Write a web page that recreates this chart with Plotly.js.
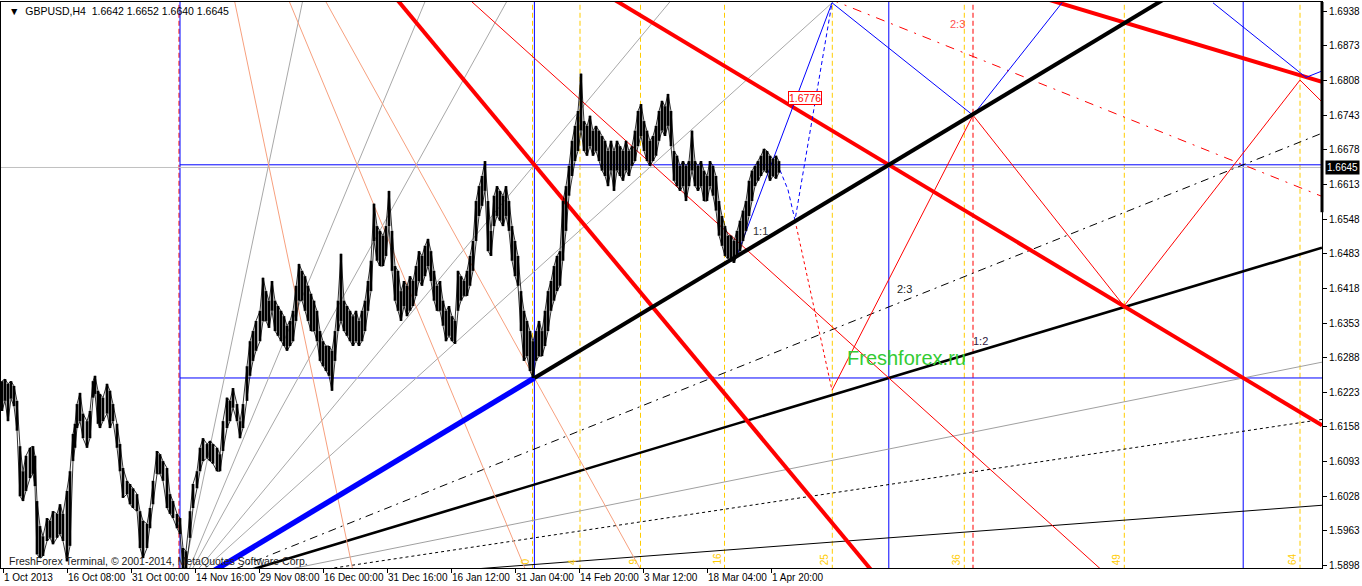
<!DOCTYPE html>
<html><head><meta charset="utf-8">
<script src="https://cdn.plot.ly/plotly-3.0.1.min.js"></script>
<style>html,body{margin:0;padding:0;background:#fff;}#chart{width:1362px;height:586px;}</style>
</head><body><div id="chart"></div>
<script>
// ---------- axis labels ----------
const dateTickBars = [3,67,131,195,259,323,387,451,515,579,643,707,771];
const dateTickLabels = ['1 Oct 2013','16 Oct 08:00','31 Oct 00:00','14 Nov 16:00','29 Nov 08:00','16 Dec 00:00','31 Dec 16:00','16 Jan 12:00','31 Jan 04:00','14 Feb 20:00','3 Mar 12:00','18 Mar 04:00','1 Apr 20:00'];
const priceTicks = [1.5898,1.5963,1.6028,1.6093,1.6158,1.6223,1.6288,1.6353,1.6418,1.6483,1.6548,1.6613,1.6678,1.6743,1.6808,1.6873,1.6938];
const symbolName = 'GBPUSD,H4';
const lastOHLC = [1.6642, 1.6652, 1.6640, 1.6645];
const bidPrice = 1.6645;
const firstBar = 1, lastBar = 1322;
const priceMin = 1.58934, priceMax = 1.69555;

// ---------- price bars (H4, sampled high / low) ----------
const barX = [
 2,5,8,11,14,17,20,23,26,30, 33,35,37,40,43,47,50,53,57,60, 63,67,70,73,75,77,80,83,87,90,
 93,95,98,100,103,107,110,113,117,120, 123,127,130,133,137,140,143,147,150,153, 157,160,163,167,170,173,177,180,183,186,
 190,193,197,200,203,207,210,213,217,220, 223,227,230,233,237,240,243,247,250,253, 256,260,263,266,269,272,275,278,281,284,
 287,290,293,296,299,302,305,308,311,314, 317,320,323,326,329,332,335,338,341,344, 347,350,353,356,359,362,365,368,371,374,
 377,380,383,386,389,392,395,398,401,404, 407,410,413,416,419,422,425,428,431,434, 437,440,443,446,449,452,455,458,461,464,
 467,470,473,476,479,482,485,488,491,494, 497,500,503,506,509,512,515,518,521,524, 527,530,533,536,539,542,545,548,551,554,
 557,560,563,566,569,572,575,578,581,584, 587,590,593,596,599,602,605,608,611,614, 617,620,623,626,629,632,635,638,641,644,
 647,650,653,656,659,662,665,668,671,674, 677,680,683,686,689,692,695,698,701,704, 707,710,713,716,719,722,725,728,731,734,
 737,740,743,746,749,752,755,758,761,764, 767,770,773,776,779];
const barHigh = [
 1.6244,1.6248,1.6239,1.6244,1.6235,1.6207,1.6122,1.6075,1.6104,1.6119,
 1.6122,1.6104,1.6019,1.5972,1.5953,1.5987,1.5982,1.6000,1.5995,1.6013,
 1.5995,1.6038,1.6075,1.6145,1.6164,1.6201,1.6222,1.6183,1.6169,1.6188,
 1.6244,1.6254,1.6226,1.6220,1.6213,1.6239,1.6226,1.6201,1.6164,1.6126,
 1.6081,1.6057,1.6051,1.6043,1.6032,1.6000,1.5982,1.5976,1.6006,1.6057,
 1.6113,1.6107,1.6094,1.6081,1.6032,1.6019,1.5995,1.5987,1.5931,1.5925,
 1.6000,1.6051,1.6075,1.6119,1.6137,1.6126,1.6132,1.6126,1.6119,1.6107,
 1.6169,1.6213,1.6207,1.6231,1.6201,1.6169,1.6201,1.6272,1.6319,1.6338,
 1.6357,1.6376,1.6438,1.6413,1.6395,1.6432,1.6395,1.6385,1.6376,1.6366,
 1.6348,1.6357,1.6376,1.6423,1.6464,1.6451,1.6441,1.6423,1.6408,1.6395,
 1.6376,1.6338,1.6319,1.6310,1.6310,1.6301,1.6338,1.6395,1.6483,1.6395,
 1.6385,1.6376,1.6366,1.6376,1.6357,1.6376,1.6395,1.6432,1.6470,1.6577,
 1.6535,1.6526,1.6517,1.6535,1.6601,1.6526,1.6460,1.6451,1.6413,1.6432,
 1.6423,1.6441,1.6432,1.6460,1.6488,1.6479,1.6498,1.6511,1.6488,1.6451,
 1.6423,1.6432,1.6395,1.6376,1.6385,1.6366,1.6357,1.6451,1.6441,1.6432,
 1.6451,1.6479,1.6507,1.6582,1.6610,1.6629,1.6657,1.6582,1.6526,1.6592,
 1.6610,1.6601,1.6592,1.6610,1.6582,1.6535,1.6507,1.6479,1.6413,1.6376,
 1.6357,1.6338,1.6319,1.6338,1.6357,1.6338,1.6376,1.6413,1.6432,1.6460,
 1.6479,1.6488,1.6582,1.6610,1.6648,1.6695,1.6723,1.6751,1.6821,1.6732,
 1.6723,1.6742,1.6714,1.6723,1.6714,1.6704,1.6695,1.6676,1.6695,1.6676,
 1.6695,1.6685,1.6676,1.6695,1.6676,1.6685,1.6714,1.6751,1.6764,1.6732,
 1.6714,1.6695,1.6704,1.6723,1.6751,1.6770,1.6760,1.6783,1.6751,1.6676,
 1.6667,1.6648,1.6657,1.6648,1.6657,1.6714,1.6657,1.6648,1.6657,1.6639,
 1.6629,1.6657,1.6648,1.6629,1.6582,1.6554,1.6535,1.6517,1.6517,1.6507,
 1.6526,1.6545,1.6564,1.6582,1.6620,1.6639,1.6648,1.6657,1.6667,1.6680,
 1.6676,1.6667,1.6661,1.6667,1.6657];
const barLow = [
 1.6188,1.6207,1.6169,1.6211,1.6197,1.6151,1.6028,1.6019,1.6038,1.6062,
 1.6070,1.6047,1.5919,1.5912,1.5916,1.5944,1.5950,1.5938,1.5950,1.5957,
 1.5944,1.5906,1.5935,1.6094,1.6119,1.6156,1.6169,1.6137,1.6119,1.6137,
 1.6213,1.6220,1.6164,1.6156,1.6169,1.6183,1.6156,1.6169,1.6119,1.6075,
 1.6025,1.6032,1.6013,1.6006,1.6000,1.5931,1.5912,1.5931,1.5968,1.6013,
 1.6070,1.6070,1.6057,1.6006,1.5995,1.5987,1.5968,1.5957,1.5893,1.5893,
 1.5950,1.6006,1.6043,1.6075,1.6094,1.6100,1.6094,1.6089,1.6075,1.6075,
 1.6113,1.6156,1.6169,1.6194,1.6169,1.6137,1.6156,1.6207,1.6254,1.6282,
 1.6301,1.6319,1.6357,1.6357,1.6344,1.6376,1.6338,1.6329,1.6319,1.6310,
 1.6301,1.6310,1.6319,1.6357,1.6395,1.6395,1.6376,1.6357,1.6338,1.6338,
 1.6319,1.6282,1.6272,1.6263,1.6254,1.6226,1.6282,1.6338,1.6357,1.6338,
 1.6329,1.6319,1.6310,1.6319,1.6310,1.6319,1.6338,1.6376,1.6413,1.6507,
 1.6470,1.6460,1.6460,1.6479,1.6535,1.6451,1.6395,1.6376,1.6357,1.6385,
 1.6366,1.6376,1.6385,1.6404,1.6432,1.6423,1.6441,1.6460,1.6432,1.6395,
 1.6376,1.6376,1.6348,1.6319,1.6329,1.6319,1.6314,1.6376,1.6395,1.6404,
 1.6404,1.6423,1.6451,1.6507,1.6554,1.6573,1.6601,1.6488,1.6479,1.6535,
 1.6554,1.6545,1.6535,1.6554,1.6526,1.6470,1.6441,1.6423,1.6338,1.6282,
 1.6291,1.6263,1.6250,1.6282,1.6291,1.6291,1.6310,1.6338,1.6376,1.6395,
 1.6413,1.6423,1.6470,1.6526,1.6592,1.6629,1.6657,1.6676,1.6714,1.6676,
 1.6667,1.6685,1.6667,1.6676,1.6657,1.6639,1.6629,1.6610,1.6639,1.6601,
 1.6639,1.6629,1.6620,1.6639,1.6629,1.6648,1.6657,1.6685,1.6704,1.6676,
 1.6657,1.6648,1.6657,1.6667,1.6695,1.6714,1.6704,1.6723,1.6685,1.6620,
 1.6610,1.6601,1.6610,1.6582,1.6610,1.6639,1.6610,1.6601,1.6610,1.6582,
 1.6582,1.6610,1.6592,1.6564,1.6517,1.6498,1.6479,1.6474,1.6470,1.6466,
 1.6479,1.6488,1.6507,1.6526,1.6554,1.6582,1.6610,1.6620,1.6629,1.6639,
 1.6635,1.6620,1.6629,1.6624,1.6635];

// ---------- Gann construction ----------
const gannStartBar = 180;
const gannUnitBars = 354.4;
const gannUnitPrice = 0.04;
const gannLowOrigin = 1.5850;   // rising fan origin
const gannHighOrigin = 1.7450;  // falling fan origin
const boxBars = [180, 534.4, 888.8, 1243.2];
const boxLevels = [1.6650, 1.6250];
const upFanRatios = [8, 4, 3, 2, 1.5, 2/3, 1/2, 1/3, 1/4, 1/8];
const upFanLabels = ['2:3', '1:2'];
const downFanRatios = [8, 4, 3, 1.5, 2/3, 2, 1, 1/2];
const timeSquareBars = [532.5, 580, 640.5, 724.5, 832.3, 964.3, 1124.3, 1300];
const timeSquareLabels = ['0','4','9','16','25','36','49','64'];
const markerBars = [179, 973];

// projections
const projBlueUpX = [736, 832];            const projBlueUpP = [1.6475, 1.6954];
const projBlueDashX = [780, 788, 795, 832]; const projBlueDashP = [1.6640, 1.6603, 1.6546, 1.6954];
const projRedDashX = [795, 832];            const projRedDashP = [1.6546, 1.6227];
const projRedZigX = [832, 973, 1124, 1300, 1322]; const projRedZigP = [1.6227, 1.6743, 1.6385, 1.6809, 1.6768];
const projBlueZigX = [832, 973, 1062];      const projBlueZigP = [1.6954, 1.6743, 1.6954];
const projBlueZig2X = [1213, 1306, 1322];   const projBlueZig2P = [1.6954, 1.6814, 1.6826];
const targetPrice = 1.6776; const targetBar = 805;

// ---------- styles ----------
const upFanStyle = [
 {c:'#A8A8A8',w:1,d:'solid'},{c:'#A8A8A8',w:1,d:'solid'},{c:'#A8A8A8',w:1,d:'solid'},{c:'#A8A8A8',w:1,d:'solid'},{c:'#A8A8A8',w:1,d:'solid'},
 {c:'#000',w:1,d:'8px,5px,2px,5px'},{c:'#000',w:2.6,d:'solid'},{c:'#A0A0A0',w:1,d:'solid'},{c:'#000',w:1,d:'3px,3px'},{c:'#000',w:1,d:'solid'}];
const downFanStyle = [
 {c:'#F7A07E',w:1,d:'solid'},{c:'#F7A07E',w:1,d:'solid'},{c:'#F7A07E',w:1,d:'solid'},{c:'#FF0000',w:1,d:'solid'},
 {c:'#FF0000',w:1,d:'9px,7px,2px,7px'},{c:'#FF0000',w:4,d:'solid'},{c:'#FF0000',w:4,d:'solid'},{c:'#FF0000',w:4,d:'solid'}];

function L(x, y, c, w, d){
  return {type:'scatter', mode:'lines', x:x, y:y, line:{color:c, width:w, dash:d||'solid'}, hoverinfo:'skip', showlegend:false};
}
const traces = [];
const yLo = 1.58, yHi = 1.70;
timeSquareBars.forEach(b => traces.push(L([b,b],[yLo,yHi],'#FFCC00',1,'5px,3px')));
markerBars.forEach(b => traces.push(L([b,b],[yLo,yHi],'#FF0000',1,'5px,3px')));
boxBars.forEach(b => traces.push(L([b,b],[yLo,yHi],'#0000FF',1)));
boxLevels.forEach(p => traces.push(L([gannStartBar,lastBar],[p,p],'#0000FF',1)));
traces.push(L([firstBar,lastBar],[bidPrice,bidPrice],'#C0C0C0',1));

const slope = gannUnitPrice / gannUnitBars;
upFanRatios.forEach((r,i) => {
  const s = upFanStyle[i];
  traces.push(L([gannStartBar,lastBar],[gannLowOrigin, gannLowOrigin + r*slope*(lastBar-gannStartBar)], s.c, s.w, s.d));
});
downFanRatios.forEach((r,i) => {
  const s = downFanStyle[i];
  traces.push(L([gannStartBar,lastBar],[gannHighOrigin, gannHighOrigin - r*slope*(lastBar-gannStartBar)], s.c, s.w, s.d));
});
traces.push(L(projBlueDashX, projBlueDashP, '#0000FF', 1, '4px,3px'));
traces.push(L(projRedDashX, projRedDashP, '#FF0000', 1, '3px,3px'));
traces.push(L(projBlueUpX, projBlueUpP, '#0000FF', 1));
traces.push(L(projRedZigX, projRedZigP, '#FF0000', 1));
traces.push(L(projBlueZigX, projBlueZigP, '#0000FF', 1));
traces.push(L(projBlueZig2X, projBlueZig2P, '#0000FF', 1));
// 1:1 line: blue up to the box corner, black afterwards
traces.push(L([gannStartBar, boxBars[1]],[gannLowOrigin, boxLevels[1]], '#0000FF', 5.5));
traces.push(L([boxBars[1], lastBar],[boxLevels[1], boxLevels[1] + slope*(lastBar-boxBars[1])], '#000', 4));

// price bars: one vertical high-low bar per sample
const barsX = [], barsY = [];
barX.forEach((x,i) => { barsX.push(x, x, null); barsY.push(barLow[i], barHigh[i], null); });
traces.push({type:'scatter', mode:'lines', x:barsX, y:barsY, line:{color:'#000', width:2.7}, hoverinfo:'skip', showlegend:false, connectgaps:false});
// thin connection between consecutive bar lows/highs to keep the series continuous
traces.push({type:'scatter', mode:'lines', x:barX, y:barLow, line:{color:'#000', width:0.8}, hoverinfo:'skip', showlegend:false});
traces.push({type:'scatter', mode:'lines', x:barX, y:barHigh, line:{color:'#000', width:0.8}, hoverinfo:'skip', showlegend:false});

const F = 'Liberation Sans, Arial, sans-serif';
const ann = [];
timeSquareBars.forEach((b,i) => ann.push({x:b-8, y:0, xref:'x', yref:'paper', yanchor:'bottom', yshift:1, text:timeSquareLabels[i], textangle:-90, showarrow:false, font:{family:F, size:10, color:'#FFCC00'}}));
ann.push({x:0.0045, xref:'paper', y:0.984, yref:'paper', xanchor:'left', yanchor:'middle', showarrow:false,
  text:'\u25BC\u00a0\u00a0' + symbolName + '\u00a0\u00a0' + lastOHLC.map(v=>v.toFixed(4)).join(' '), font:{family:F, size:10.5, color:'#000'}});
ann.push({x:0.0045, xref:'paper', y:0.0124, yref:'paper', xanchor:'left', yanchor:'middle', showarrow:false,
  text:'FreshForex Terminal, \u00a9 2001-2014, MetaQuotes Software Corp.', font:{family:F, size:10.5, color:'#202020'}});
ann.push({x:1, xref:'paper', y:bidPrice, yref:'y', xanchor:'left', xshift:3, showarrow:false, text:bidPrice.toFixed(4), bgcolor:'#000', borderpad:1, font:{family:F, size:10, color:'#fff'}});
ann.push({x:targetBar, y:targetPrice, xref:'x', yref:'y', showarrow:false, text:targetPrice.toFixed(4), bgcolor:'#fff', bordercolor:'#FF0000', borderwidth:1, borderpad:0, font:{family:F, size:10.5, color:'#FF0000'}});
ann.push({x:760, y:1.6526, showarrow:false, text:'1:1', font:{family:F, size:11, color:'#333'}});
ann.push({x:904, y:1.6417, showarrow:false, text:upFanLabels[0], font:{family:F, size:11, color:'#222'}});
ann.push({x:980, y:1.6319, showarrow:false, text:upFanLabels[1], font:{family:F, size:11, color:'#302040'}});
ann.push({x:957, y:1.6914, showarrow:false, text:'2:3', font:{family:F, size:11, color:'#FF5050'}});
ann.push({x:906, y:1.6287, showarrow:false, text:'Freshforex.ru', font:{family:F, size:20, color:'#33CC33'}});

const layout = {
  width:1362, height:586, margin:{l:1, r:40, t:2, b:18},
  paper_bgcolor:'#fff', plot_bgcolor:'#fff', showlegend:false,
  xaxis:{range:[firstBar,lastBar], showgrid:false, zeroline:false, showline:true, mirror:true, linecolor:'#000', linewidth:1,
    tickmode:'array', tickvals:dateTickBars, ticktext:dateTickLabels, ticks:'outside', ticklen:4, tickcolor:'#000',
    ticklabelposition:'outside right', tickangle:0, tickfont:{family:F, size:10, color:'#000'}},
  yaxis:{range:[priceMin,priceMax], side:'right', showgrid:false, zeroline:false, showline:true, mirror:true, linecolor:'#000', linewidth:1,
    tickmode:'array', tickvals:priceTicks, ticktext:priceTicks.map(v=>v.toFixed(4)), ticks:'outside', ticklen:4, tickcolor:'#000',
    tickfont:{family:F, size:10, color:'#000'}},
  shapes:[{type:'line', xref:'paper', yref:'y', x0:1, x1:1, y0:1.6561, y1:priceMax, line:{color:'#000', width:3}}],
  annotations: ann
};
Plotly.newPlot('chart', traces, layout, {staticPlot:true, displayModeBar:false});
</script></body></html>
